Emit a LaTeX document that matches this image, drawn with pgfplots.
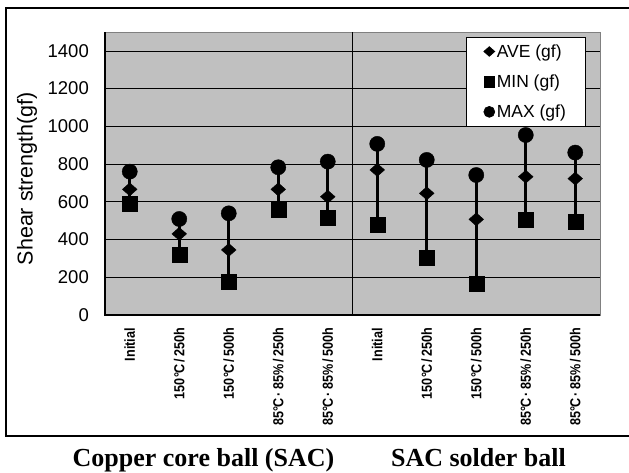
\documentclass[border=0pt]{standalone}
\usepackage{pgfplots}
\pgfplotsset{compat=1.18}
\usepackage{pgfplotstable}
\usepackage{fontspec}
\setmainfont{Liberation Sans}
\newfontfamily\serifbold{Liberation Serif}
\definecolor{plotgray}{RGB}{192,192,192}
\definecolor{edgegray}{RGB}{128,128,128}
\newcommand\dC{\kern0.02em°\kern-0.08em C}

\pgfplotstableread{
x min ave max
1 588 666 760
2 322 430 509
3 177 345 539
4 557 666 783
5 518 627 813
6 477 769 907
7 306 645 822
8 164 507 742
9 504 733 954
10 495 723 861
}\data

\begin{document}
\begin{tikzpicture}
\begin{axis}[
  at={(0pt,0pt)}, anchor=south west,
  scale only axis, width=495pt, height=283pt,
  xmin=0.5, xmax=10.5, ymin=0, ymax=1500,
  xtick={1,2,...,10},
  xticklabels={Initial,150\dC\,/\,250h,150\dC\,/\,500h,85\dC\,·\,85\%\,/\,250h,85\dC\,·\,85\%\,/\,500h,Initial,150\dC\,/\,250h,150\dC\,/\,500h,85\dC\,·\,85\%\,/\,250h,85\dC\,·\,85\%\,/\,500h},
  ytick={0,200,...,1400},
  ymajorgrids,
  grid style={black, line width=0.7pt},
  axis background/.style={fill=plotgray},
  axis line style={draw=edgegray, line width=0.8pt},
  major tick length=0pt,
  tick style={draw=none},
  yticklabel style={font=\fontsize{18.5}{20}\selectfont, inner sep=0pt, anchor=east},
  yticklabel shift=16pt,
  xticklabel style={font=\bfseries\fontsize{14.5}{16}\selectfont, rotate=90, xscale=0.87, anchor=east, inner sep=0pt},
  xticklabel shift=13pt,
  /pgf/number format/assume math mode=true,
  /pgf/number format/1000 sep={},
  ylabel={Shear strength(gf)},
  every axis y label/.style={at={(axis description cs:-0.1576,0.482)}, rotate=90, anchor=center, font=\fontsize{21.5}{23}\selectfont},
  clip=false,
  legend style={at={(axis description cs:0.970,0.982)}, anchor=north east, draw=black, fill=white, line width=0.6pt, inner xsep=17pt, inner ysep=5pt, row sep=12pt, /tikz/every even column/.append style={column sep=3pt}},
  legend cell align=left,
  legend image code/.code={\draw[mark repeat=1,#1] plot coordinates {(0pt,0pt)};},
]
\addplot[black, only marks, mark=none, forget plot,
  error bars/.cd, y dir=plus, y explicit, error mark=none,
  error bar style={line width=2.7pt, draw=black, solid}]
  table[x=x, y=min, y error expr=\thisrow{max}-\thisrow{min}] \data;
\addplot[only marks, mark=square*, mark size=5.2pt, mark options={fill=black, draw=black, yscale=0.88, rotate=45},
  legend image post style={mark size=3.9pt}] table[x=x, y=ave] \data;
\addlegendentry{\fontsize{17.5}{20}\selectfont AVE (gf)}
\addplot[only marks, mark=square*, mark size=7.5pt, mark options={fill=black, draw=black},
  legend image post style={mark size=5.4pt}] table[x=x, y=min] \data;
\addlegendentry{\fontsize{17.5}{20}\selectfont MIN (gf)}
\addplot[only marks, mark=*, mark size=7.6pt, mark options={fill=black, draw=black},
  legend image post style={mark size=5.5pt}] table[x=x, y=max] \data;
\addlegendentry{\fontsize{17.5}{20}\selectfont MAX (gf)}
\draw[black, line width=1.6pt] (axis cs:5.5,0) -- (axis cs:5.5,1500);
\draw[black, line width=1.6pt] (rel axis cs:0,1) -- (rel axis cs:0,0) -- (rel axis cs:1,0);
\end{axis}
\draw[black, line width=1.2pt] (530pt,307pt) -- (-99pt,307pt) -- (-99pt,-121pt) -- (530pt,-121pt);
\node[anchor=base, font=\serifbold\bfseries\fontsize{26}{28}\selectfont, inner sep=0pt] at (98.5pt,-151pt) {Copper core ball (SAC)};
\node[anchor=base, font=\serifbold\bfseries\fontsize{26}{28}\selectfont, inner sep=0pt] at (373.5pt,-151pt) {SAC solder ball};
\pgfresetboundingbox
\useasboundingbox (-105pt,-157pt) rectangle (524pt,315pt);
\end{tikzpicture}
\end{document}
